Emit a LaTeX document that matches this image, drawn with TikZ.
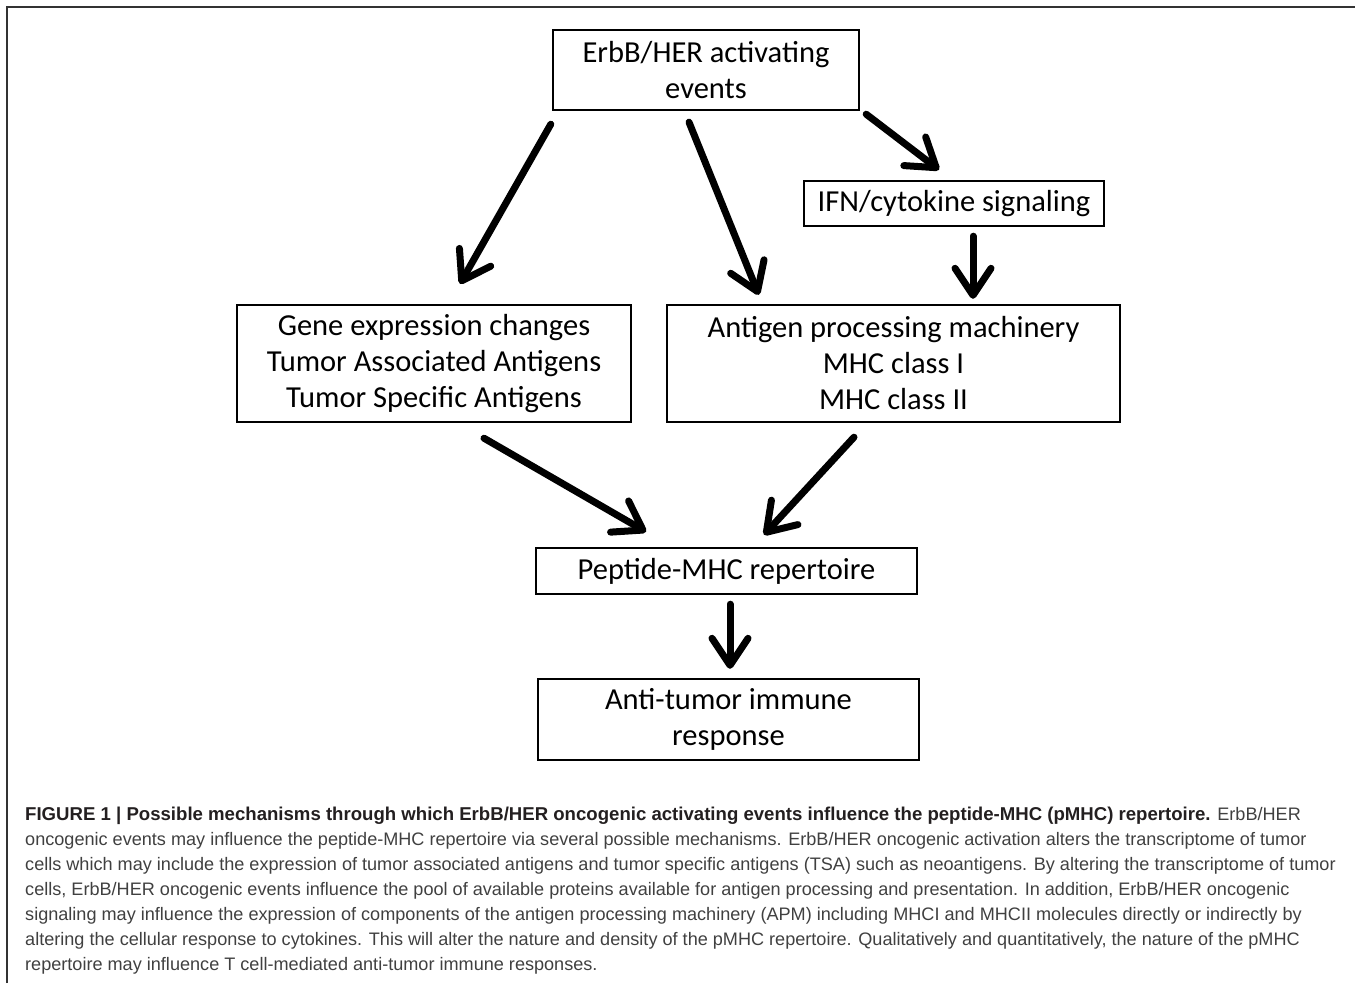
\documentclass[tikz,border=0pt]{standalone}
\usepackage{fontspec}
\setmainfont{Carlito}
\newfontfamily\capfont{Liberation Sans}
\usetikzlibrary{arrows.meta, calc}

\definecolor{captext}{HTML}{404040}
\definecolor{capbold}{HTML}{231F20}

\begin{document}
\begin{tikzpicture}[
    x=1pt, y=1pt,
    every edge/.style={draw, line width=7pt, line cap=round, -{Straight Barb[length=27pt, width=36pt, round]}},
    stage/.style={rectangle, draw, line width=2.4pt, inner sep=0pt, align=center, font=\fontsize{30.5}{36}\selectfont},
    caption/.style={anchor=north west, inner sep=0pt, align=left, text=captext, font=\capfont\fontsize{18.1}{25}\selectfont},
    frame/.style={draw=black!80, line width=1.4pt}
  ]
  \useasboundingbox (0,0) rectangle (1355,-983);
  \draw[frame] (7,-983) |- (1355,-7);

  \node[stage, minimum width=306pt, minimum height=80pt] (erbb) at (706,-70) {ErbB/HER activating\\events};
  \node[stage, minimum width=300pt, minimum height=45pt] (ifn) at (954,-203.5) {IFN/cytokine signaling};
  \node[stage, minimum width=394pt, minimum height=117pt] (gene) at (434,-363.5) {Gene expression changes\\Tumor Associated Antigens\\Tumor Specific Antigens};
  \node[stage, minimum width=453pt, minimum height=117pt] (apm) at (893.5,-363.5) {Antigen processing machinery\\MHC class I\\MHC class II};
  \node[stage, minimum width=381pt, minimum height=46pt] (pmhc) at (726.5,-571) {Peptide-MHC repertoire};
  \node[stage, minimum width=381pt, minimum height=81pt] (immune) at (728.5,-719.5) {Anti-tumor immune\\response};

  \path
    ($(erbb.south west)+(-1,-13)$) edge ($(gene.north)+(26,20)$)
    ($(erbb.south)+(-17,-11)$) edge ($(apm.north west)+(93,9)$)
    ($(erbb.south east)+(6,-3)$) edge ($(ifn.north)+(-15,10)$)
    ($(ifn.south)+(19,-9)$) edge ($(apm.north)+(79.5,5)$)
    ($(gene.south)+(50,-15)$) edge ($(pmhc.north)+(-80.5,15)$)
    ($(apm.south)+(-39.5,-14)$) edge ($(pmhc.north)+(37.5,12)$)
    ($(pmhc.south)+(3.5,-9)$) edge ($(immune.north)+(1.5,9)$)
  ;

  \node[caption] (legend) at (25,-807) {{\bfseries\fontsize{18.6}{25}\selectfont\color{capbold}FIGURE 1 | Possible mechanisms through which ErbB/HER oncogenic activating events influence the peptide-MHC (pMHC) repertoire.} ErbB/HER\\
oncogenic events may influence the peptide-MHC repertoire via several possible mechanisms. ErbB/HER oncogenic activation alters the transcriptome of tumor\\
cells which may include the expression of tumor associated antigens and tumor specific antigens (TSA) such as neoantigens. By altering the transcriptome of tumor\\
cells, ErbB/HER oncogenic events influence the pool of available proteins available for antigen processing and presentation. In addition, ErbB/HER oncogenic\\
signaling may influence the expression of components of the antigen processing machinery (APM) including MHCI and MHCII molecules directly or indirectly by\\
altering the cellular response to cytokines. This will alter the nature and density of the pMHC repertoire. Qualitatively and quantitatively, the nature of the pMHC\\
repertoire may influence T cell-mediated anti-tumor immune responses.};
\end{tikzpicture}
\end{document}
